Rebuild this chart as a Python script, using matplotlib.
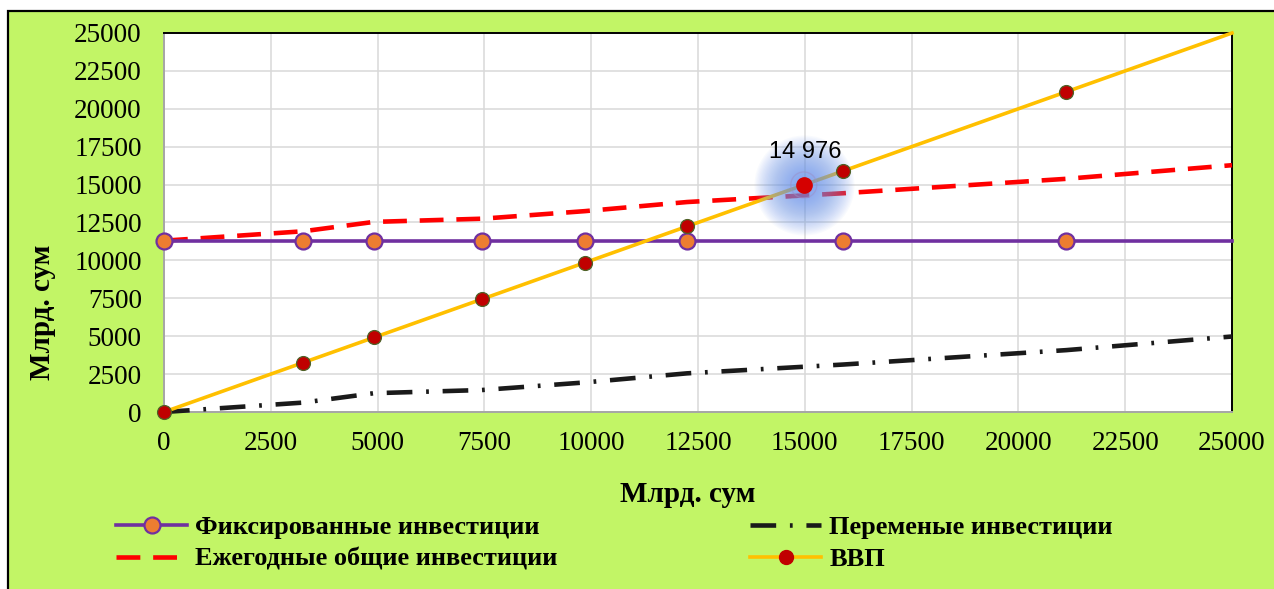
import matplotlib
matplotlib.use("Agg")
import matplotlib.pyplot as plt
from matplotlib.patches import Rectangle
from matplotlib.lines import Line2D

# ---- data -----------------------------------------------------------------
x_points = [0, 3254, 4916, 7444, 9855, 12243, 15894, 21115, 25000]
fixed_level = 11300
variable_inv = [0, 620, 1240, 1450, 1950, 2550, 3130, 4080, 4980]
total_inv = [fixed_level + v for v in variable_inv]
gdp_x = [0, 3254, 4916, 7444, 9855, 12243, 15894, 21115, 25000]
gdp_y = gdp_x
marker_x = [0, 3254, 4916, 7444, 9855, 12243, 15894, 21115]
equilibrium = 14976

ticks = [0, 2500, 5000, 7500, 10000, 12500, 15000, 17500, 20000, 22500, 25000]
labels_series = ["Фиксированные инвестиции", "Ежегодные общие инвестиции",
                 "Переменые инвестиции", "ВВП"]
axis_title = "Млрд. сум"

# ---- style ----------------------------------------------------------------
BG = "#C2F566"
PURPLE = "#7030A0"
ORANGE = "#ED7D31"
RED = "#FF0000"
GOLD = "#FFC000"
DARKRED = "#C00000"
GRID = "#D9D9D9"
SERIF = "Liberation Serif"

LW_DASH = 3.3
VAR_DASH = (5.6, 3.0, 0.6, 3.0)
TOT_DASH = (5.2, 2.8)

W, H = 1274, 589
fig = plt.figure(figsize=(W / 100, H / 100), dpi=100)
fig.patch.set_facecolor("white")

# green chart-area panel with black frame
frame = Rectangle((8 / W, -0.05), 1.2, 1 - 11 / H + 0.05, transform=fig.transFigure,
                  facecolor=BG, edgecolor="black", linewidth=1.6, zorder=0)
fig.add_artist(frame)

ax = fig.add_axes([164 / W, 1 - 412 / H, (1232 - 164) / W, (412 - 33) / H])
ax.set_facecolor("white")
ax.set_xlim(0, 25000)
ax.set_ylim(0, 25000)
ax.set_xticks(ticks)
ax.set_yticks(ticks)
ax.set_xticklabels([str(t) for t in ticks], fontfamily=SERIF, fontsize=19.5)
ax.set_yticklabels([str(t) for t in ticks], fontfamily=SERIF, fontsize=19.5)
ax.tick_params(axis="both", length=0)
ax.tick_params(axis="x", pad=14)
ax.tick_params(axis="y", pad=16)
ax.grid(True, color=GRID, linewidth=1.1, zorder=0)
ax.set_axisbelow(True)
for side in ("top", "right"):
    ax.spines[side].set_color("black")
    ax.spines[side].set_linewidth(1.4)
for side in ("left", "bottom"):
    ax.spines[side].set_color("#A6A6A6")
    ax.spines[side].set_linewidth(1.4)

# variable investments
ax.plot(x_points, variable_inv, color="#1A1A1A", linewidth=LW_DASH,
        dashes=VAR_DASH, zorder=3, clip_on=False)
# total investments
ax.plot(x_points, total_inv, color=RED, linewidth=LW_DASH, dashes=TOT_DASH,
        zorder=3, clip_on=False)
# fixed investments
ax.plot([0, 25000], [fixed_level, fixed_level], color=PURPLE, linewidth=2.6, zorder=4,
        clip_on=False)
ax.plot(marker_x, [fixed_level] * len(marker_x), linestyle="none", marker="o",
        markersize=11.5, markerfacecolor=ORANGE, markeredgecolor=PURPLE,
        markeredgewidth=1.6, zorder=5, clip_on=False)
# GDP
ax.plot(gdp_x, gdp_y, color=GOLD, linewidth=2.6, zorder=4, clip_on=False)
ax.plot(marker_x, marker_x, linestyle="none", marker="o", markersize=10,
        markerfacecolor=DARKRED, markeredgecolor="#4F6228", markeredgewidth=0.9,
        zorder=6, clip_on=False)

# glow around the equilibrium point
n_layers = 34
for i in range(n_layers):
    r_px = 50 - i * 1.35
    s = (2 * r_px * 0.72) ** 2
    ax.scatter([equilibrium], [equilibrium], s=s, color="#6E98EE", alpha=0.045,
               linewidths=0, zorder=5)
ax.scatter([equilibrium], [equilibrium], s=(2 * 13 * 0.72) ** 2, facecolors="none",
           edgecolors="#9A90C8", linewidths=1.0, alpha=0.5, zorder=6)
ax.plot([equilibrium], [equilibrium], marker="o", markersize=11,
        markerfacecolor="#D50000", markeredgecolor="#D50000", zorder=7)
ax.annotate(f"{equilibrium:,}".replace(",", " "), (equilibrium, equilibrium),
            xytext=(1, 24), textcoords="offset points", ha="center", va="center",
            fontsize=17, fontfamily="Liberation Sans", color="black", zorder=8)

# axis titles
fig.text(688 / W, 1 - 494 / H, axis_title, ha="center", va="center",
         fontfamily=SERIF, fontweight="bold", fontsize=21)
fig.text(42 / W, 1 - 312 / H, axis_title, ha="center", va="center", rotation=90,
         fontfamily=SERIF, fontweight="bold", fontsize=21)

# legend
h_fixed = Line2D([], [], color=PURPLE, linewidth=2.6, marker="o", markersize=11.5,
                 markerfacecolor=ORANGE, markeredgecolor=PURPLE, markeredgewidth=1.6)
h_total = Line2D([], [], color=RED, linewidth=LW_DASH, dashes=TOT_DASH)
h_var = Line2D([], [], color="#1A1A1A", linewidth=LW_DASH, dashes=VAR_DASH)
h_gdp = Line2D([], [], color=GOLD, linewidth=2.6, marker="o", markersize=10,
               markerfacecolor=DARKRED, markeredgecolor=DARKRED)

leg_kw = dict(frameon=False, handlelength=2.7, handletextpad=0.3, labelspacing=0.3,
              prop={"family": SERIF, "weight": "bold", "size": 19}, loc="upper left",
              borderaxespad=0, borderpad=0)
fig.legend([h_fixed, h_total], labels_series[:2],
           bbox_to_anchor=(116 / W, 1 - 516 / H), **leg_kw)
fig.legend([h_var, h_gdp], labels_series[2:],
           bbox_to_anchor=(750 / W, 1 - 516 / H), **leg_kw)

fig.savefig("out.png", dpi=100, facecolor=fig.get_facecolor())
